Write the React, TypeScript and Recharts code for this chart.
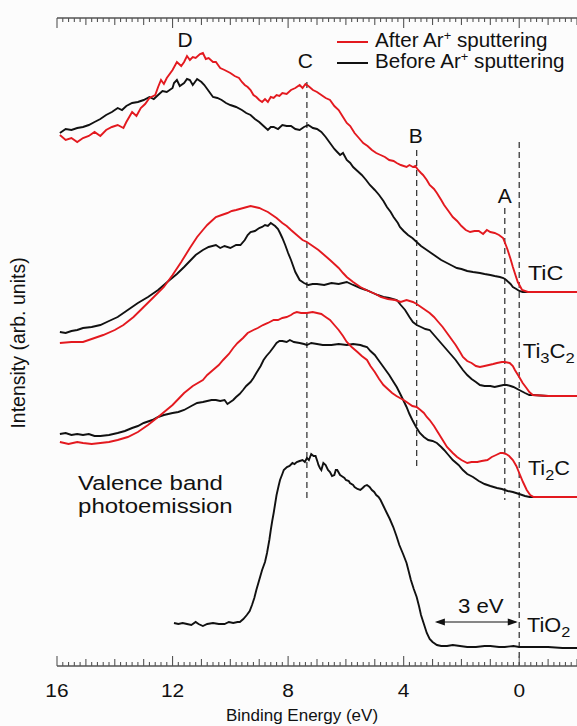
import React from 'react';
import { LineChart, Line, XAxis, YAxis, ReferenceLine, ReferenceDot, Legend } from 'recharts';

const FONT = '"Liberation Sans", Arial, Helvetica, sans-serif';
const RED = '#e3191f';
const BLACK = '#111111';
const DASH = '#3a3a3a';
const AXIS = '#555555';

const CHART_W = 577;
const CHART_H = 726;
const PLOT_TOP = 18;
const PLOT_LEFT = 57;
const X_AXIS_H = 60;

// Binding energy axis (eV), reversed
const xDomain: [number, number] = [-2, 16];
const yDomain: [number, number] = [0, 648];
const majorTickLabels = [16, 12, 8, 4, 0];
const energyTicks: number[] = [];
for (let k = -10; k <= 80; k++) energyTicks.push(k / 5);

const xTitle = 'Binding Energy (eV)';
const yTitle = 'Intensity (arb. units)';

// [binding energy (eV), intensity (arb. units)]
const ticAfter = [
  [15.9, 531], [15.7, 526], [15.5, 528], [15.3, 524], [15.1, 528], [14.9, 530], [14.7, 534], [14.5, 530], [14.3, 536],
  [14.1, 539], [13.9, 541], [13.7, 538], [13.6, 544], [13.4, 554], [13.25, 550], [13.1, 558], [12.95, 562],
  [12.8, 568], [12.6, 571], [12.5, 579], [12.4, 586], [12.3, 582], [12.2, 588], [12.0, 596], [11.85, 604],
  [11.7, 600], [11.6, 604], [11.5, 610], [11.4, 606], [11.3, 609], [11.2, 608], [11.05, 612], [10.95, 613],
  [10.85, 607], [10.75, 608], [10.6, 604], [10.5, 604], [10.35, 598], [10.2, 596], [10.0, 593], [9.85, 590],
  [9.7, 588], [9.6, 584], [9.5, 581], [9.4, 579], [9.3, 576], [9.2, 571], [9.1, 569], [9.0, 566], [8.9, 564],
  [8.8, 567], [8.7, 564], [8.6, 569], [8.5, 568], [8.4, 571], [8.3, 570], [8.2, 573], [8.05, 572], [7.9, 576],
  [7.75, 578], [7.6, 581], [7.5, 578], [7.4, 582], [7.3, 580], [7.14, 576], [7.0, 574], [6.85, 571],
  [6.7, 568], [6.55, 566], [6.4, 560], [6.25, 556], [6.1, 549], [5.97, 543], [5.85, 540], [5.7, 533],
  [5.55, 528], [5.4, 523], [5.25, 520], [5.1, 516], [4.95, 513], [4.8, 511], [4.65, 509], [4.5, 506],
  [4.35, 505], [4.24, 503], [4.1, 501], [3.9, 499], [3.8, 501], [3.68, 499], [3.6, 500], [3.5, 496],
  [3.4, 493], [3.33, 491], [3.2, 486], [3.1, 481], [2.95, 477], [2.85, 473], [2.7, 466], [2.6, 461],
  [2.45, 455], [2.3, 449], [2.15, 445], [2.0, 440], [1.85, 436], [1.7, 434], [1.55, 435], [1.4, 435],
  [1.25, 432], [1.12, 436], [1.0, 434], [0.85, 433], [0.7, 431], [0.56, 428], [0.45, 420], [0.4, 416],
  [0.3, 407], [0.22, 399], [0.12, 390], [0.05, 384], [-0.1, 376], [-0.3, 374], [-1, 374], [-2, 374],
];

const ticBefore = [
  [15.9, 533], [15.7, 537], [15.5, 536], [15.3, 538], [15.1, 539], [14.9, 541], [14.7, 544], [14.5, 547],
  [14.3, 551], [14.1, 554], [13.9, 558], [13.75, 556], [13.6, 560], [13.4, 563], [13.2, 564], [13.0, 566],
  [12.8, 569], [12.65, 567], [12.5, 571], [12.35, 575], [12.2, 574], [12.0, 578], [11.95, 583], [11.85, 586],
  [11.75, 580], [11.6, 583], [11.5, 587], [11.4, 586], [11.3, 581], [11.15, 587], [11.0, 584], [10.9, 581],
  [10.75, 575], [10.6, 569], [10.45, 568], [10.3, 566], [10.15, 563], [10.0, 561], [9.8, 559], [9.6, 556],
  [9.45, 553], [9.3, 551], [9.15, 547], [9.0, 544], [8.85, 540], [8.7, 536], [8.6, 539], [8.5, 539],
  [8.35, 537], [8.2, 541], [8.05, 540], [7.9, 540], [7.75, 537], [7.6, 536], [7.45, 539], [7.3, 541],
  [7.14, 538], [7.0, 537], [6.85, 534], [6.7, 529], [6.55, 523], [6.4, 517], [6.3, 514], [6.2, 511],
  [6.1, 513], [5.97, 506], [5.85, 503], [5.75, 499], [5.6, 495], [5.45, 491], [5.3, 486], [5.17, 481],
  [5.0, 476], [4.85, 471], [4.7, 465], [4.58, 459], [4.45, 454], [4.35, 449], [4.2, 443], [4.13, 439],
  [4.0, 435], [3.85, 431], [3.7, 428], [3.55, 424], [3.4, 420], [3.2, 416], [3.0, 412], [2.85, 409],
  [2.7, 406], [2.5, 403], [2.3, 400], [2.16, 398], [2.0, 397], [1.8, 395], [1.6, 394], [1.36, 393],
  [1.2, 392], [1.0, 391], [0.85, 390], [0.67, 389], [0.55, 388], [0.45, 386], [0.3, 382], [0.22, 379],
  [0.1, 377], [0.0, 375], [-0.12, 374], [-1, 374], [-2, 374],
];

const ti3c2After = [
  [15.9, 323], [15.5, 324], [15.1, 324], [14.8, 327], [14.4, 331], [14.0, 336], [13.7, 341], [13.35, 349],
  [13.0, 359], [12.65, 369], [12.3, 379], [12.0, 391], [11.7, 404], [11.4, 418], [11.15, 429], [10.95, 436],
  [10.8, 441], [10.65, 445], [10.5, 449], [10.3, 451], [10.1, 453], [9.95, 455], [9.8, 456], [9.55, 458],
  [9.3, 460], [9.15, 459], [9.0, 458], [8.85, 456], [8.7, 454], [8.55, 451], [8.4, 448], [8.2, 443],
  [8.05, 440], [7.9, 436], [7.7, 431], [7.5, 426], [7.35, 424], [7.15, 420], [6.95, 416], [6.75, 411],
  [6.55, 406], [6.4, 402], [6.25, 398], [6.1, 393], [5.97, 389], [5.75, 384], [5.5, 379], [5.3, 376],
  [5.06, 373], [4.9, 371], [4.8, 369], [4.55, 367], [4.3, 366], [4.1, 364], [3.9, 366], [3.68, 364],
  [3.55, 362], [3.4, 359], [3.25, 356], [3.1, 353], [2.95, 349], [2.8, 344], [2.65, 339], [2.5, 333],
  [2.35, 327], [2.2, 321], [2.05, 314], [1.95, 309], [1.8, 305], [1.65, 303], [1.5, 300], [1.36, 299],
  [1.2, 300], [1.05, 301], [0.9, 302], [0.77, 303], [0.6, 304], [0.5, 304], [0.33, 303], [0.22, 300],
  [0.15, 296], [0.0, 289], [-0.12, 283], [-0.25, 278], [-0.35, 274], [-0.47, 271], [-1, 270], [-2, 270],
];

const ti3c2Before = [
  [15.9, 334], [15.7, 333], [15.5, 335], [15.3, 336], [15.1, 338], [14.8, 339], [14.5, 341], [14.2, 345],
  [13.9, 349], [13.55, 356], [13.2, 363], [12.85, 369], [12.5, 376], [12.3, 381], [12.1, 386], [11.85, 392],
  [11.6, 399], [11.4, 405], [11.2, 411], [10.95, 416], [10.75, 419], [10.5, 421], [10.35, 418], [10.2, 420],
  [10.0, 418], [9.8, 421], [9.65, 421], [9.5, 426], [9.4, 431], [9.3, 434], [9.15, 435], [9.0, 438],
  [8.9, 439], [8.8, 441], [8.7, 440], [8.6, 443], [8.45, 440], [8.35, 437], [8.28, 433], [8.2, 428],
  [8.1, 421], [8.0, 413], [7.9, 406], [7.75, 394], [7.6, 386], [7.45, 383], [7.3, 381], [7.15, 382],
  [7.0, 382], [6.75, 381], [6.5, 383], [6.25, 382], [5.97, 384], [5.75, 381], [5.5, 378], [5.3, 376],
  [5.06, 373], [4.9, 371], [4.7, 369], [4.5, 368], [4.24, 366], [4.1, 361], [3.95, 356], [3.8, 349],
  [3.68, 344], [3.55, 341], [3.4, 339], [3.25, 337], [3.1, 336], [2.95, 331], [2.8, 326], [2.65, 321],
  [2.5, 316], [2.35, 311], [2.2, 306], [2.05, 300], [1.95, 296], [1.8, 291], [1.65, 287], [1.5, 284],
  [1.36, 281], [1.2, 280], [1.0, 280], [0.85, 279], [0.7, 280], [0.55, 281], [0.43, 281], [0.3, 280],
  [0.2, 279], [0.0, 276], [-0.2, 273], [-0.35, 271], [-0.47, 271], [-1, 270], [-2, 270],
];

const ti2cAfter = [
  [15.9, 224], [15.6, 222], [15.3, 224], [15.1, 223], [14.8, 222], [14.5, 223], [14.2, 224], [13.9, 226],
  [13.55, 229], [13.2, 234], [12.85, 241], [12.5, 249], [12.25, 255], [12.0, 261], [11.8, 267], [11.6, 273],
  [11.3, 280], [10.95, 286], [10.8, 291], [10.6, 296], [10.4, 301], [10.25, 306], [10.05, 312], [9.9, 318],
  [9.75, 323], [9.56, 328], [9.4, 333], [9.2, 336], [9.05, 338], [8.87, 341], [8.7, 343], [8.5, 346],
  [8.35, 346], [8.2, 348], [8.05, 349], [7.9, 351], [7.8, 353], [7.7, 354], [7.55, 353], [7.35, 353],
  [7.15, 354], [7.0, 353], [6.85, 352], [6.75, 350], [6.65, 348], [6.55, 346], [6.4, 341], [6.25, 336],
  [6.1, 330], [5.97, 324], [5.8, 319], [5.6, 314], [5.45, 310], [5.27, 306], [5.15, 300], [5.0, 294],
  [4.85, 287], [4.7, 281], [4.55, 277], [4.4, 273], [4.25, 270], [4.13, 268], [4.0, 266], [3.85, 263],
  [3.7, 260], [3.55, 259], [3.42, 256], [3.3, 253], [3.2, 249], [3.1, 246], [2.95, 240], [2.8, 233],
  [2.65, 226], [2.5, 219], [2.3, 213], [2.15, 209], [2.0, 206], [1.8, 203], [1.65, 204], [1.45, 204],
  [1.3, 205], [1.1, 206], [0.95, 209], [0.8, 211], [0.65, 213], [0.56, 213], [0.45, 212], [0.35, 210],
  [0.22, 206], [0.1, 200], [0.0, 193], [-0.13, 184], [-0.26, 176], [-0.38, 171], [-0.5, 169], [-1, 169],
  [-2, 169],
];

const ti2cBefore = [
  [15.9, 232], [15.7, 233], [15.5, 231], [15.3, 232], [15.1, 231], [14.9, 232], [14.7, 230], [14.5, 230],
  [14.2, 231], [13.9, 233], [13.65, 235], [13.4, 238], [13.2, 240], [13.0, 243], [12.7, 246], [12.5, 249],
  [12.3, 251], [12.0, 253], [11.8, 254], [11.6, 256], [11.35, 260], [11.15, 263], [10.95, 264], [10.8, 265],
  [10.65, 266], [10.5, 266], [10.35, 265], [10.2, 266], [10.1, 262], [10.0, 264], [9.9, 266], [9.8, 269],
  [9.68, 272], [9.56, 276], [9.45, 280], [9.3, 284], [9.2, 288], [9.1, 293], [8.95, 300], [8.85, 306],
  [8.75, 310], [8.63, 314], [8.5, 319], [8.4, 323], [8.3, 325], [8.2, 325], [8.05, 324], [7.94, 326],
  [7.8, 324], [7.6, 323], [7.45, 322], [7.35, 321], [7.2, 323], [7.0, 322], [6.8, 321], [6.5, 321],
  [6.25, 322], [5.97, 321], [5.75, 322], [5.5, 321], [5.4, 320], [5.27, 319], [5.15, 315], [5.0, 311],
  [4.9, 307], [4.8, 303], [4.65, 297], [4.5, 291], [4.35, 284], [4.24, 279], [4.1, 271], [3.9, 259],
  [3.8, 252], [3.7, 246], [3.57, 239], [3.44, 233], [3.3, 229], [3.15, 226], [3.0, 225], [2.85, 223],
  [2.7, 219], [2.6, 216], [2.45, 211], [2.3, 206], [2.1, 201], [1.95, 196], [1.8, 192], [1.6, 189],
  [1.4, 185], [1.2, 182], [1.0, 180], [0.77, 178], [0.6, 177], [0.4, 175], [0.22, 174], [0.0, 172],
  [-0.2, 170], [-0.36, 169], [-1, 169], [-2, 169],
];

const tio2 = [
  [11.95, 43], [11.8, 42], [11.65, 43], [11.5, 42], [11.35, 41], [11.2, 44], [11.1, 42], [10.95, 40],
  [10.8, 42], [10.6, 43], [10.4, 42], [10.2, 42], [10.05, 44], [9.9, 43], [9.75, 44], [9.67, 44],
  [9.55, 47], [9.43, 51], [9.33, 55], [9.25, 61], [9.17, 68], [9.1, 76], [9.0, 86], [8.9, 96],
  [8.8, 104], [8.73, 113], [8.65, 126], [8.6, 136], [8.55, 145], [8.5, 153], [8.45, 162], [8.4, 171],
  [8.33, 180], [8.28, 186], [8.2, 192], [8.15, 196], [8.04, 199], [7.95, 200], [7.85, 203], [7.78, 202],
  [7.7, 204], [7.6, 205], [7.5, 206], [7.42, 204], [7.35, 208], [7.28, 206], [7.2, 212], [7.12, 210],
  [7.05, 210], [6.98, 204], [6.95, 201], [6.9, 198], [6.85, 196], [6.78, 203], [6.7, 201], [6.62, 196],
  [6.55, 194], [6.48, 190], [6.4, 191], [6.35, 196], [6.3, 196], [6.2, 191], [6.15, 190], [6.05, 188],
  [6.0, 186], [5.9, 185], [5.86, 183], [5.75, 181], [5.7, 179], [5.6, 177], [5.5, 176], [5.42, 178],
  [5.35, 180], [5.27, 181], [5.18, 179], [5.1, 176], [5.02, 174], [4.95, 171], [4.87, 169], [4.8, 166],
  [4.7, 160], [4.6, 154], [4.48, 147], [4.36, 139], [4.25, 130], [4.15, 121], [4.02, 112], [3.9, 103],
  [3.82, 94], [3.75, 86], [3.65, 77], [3.55, 69], [3.47, 60], [3.4, 51], [3.3, 42], [3.2, 33],
  [3.1, 27], [3.0, 24], [2.85, 21], [2.7, 20], [2.5, 20], [2.3, 21], [2.05, 20], [1.8, 19],
  [1.5, 19], [1.2, 20], [1.0, 20], [0.7, 19], [0.5, 19], [0.2, 20], [0, 19], [-0.5, 19], [-1, 19],
  [-1.5, 18], [-2, 18],
];

const toPts = (a: number[][]) => a.map(([e, i]) => ({ e, i }));

const seriesList = [
  { id: 'ticBefore', data: ticBefore, color: BLACK },
  { id: 'ticAfter', data: ticAfter, color: RED },
  { id: 'ti3c2Before', data: ti3c2Before, color: BLACK },
  { id: 'ti3c2After', data: ti3c2After, color: RED },
  { id: 'ti2cBefore', data: ti2cBefore, color: BLACK },
  { id: 'ti2cAfter', data: ti2cAfter, color: RED },
  { id: 'tio2', data: tio2, color: BLACK },
];

// Vertical dashed guide lines: [energy, from intensity, to intensity]
const guideLines = [
  [7.35, 584, 168],
  [3.55, 516, 196],
  [0.5, 458, 166],
  [0.0, 524, 0],
];

type Seg = { t: string; sub?: boolean };
const annotations: { e: number; i: number; parts: Seg[]; size: number; anchor: string; sx: number }[] = [
  { e: 11.57, i: 619, parts: [{ t: 'D' }], size: 20, anchor: 'middle', sx: 1.05 },
  { e: 7.4, i: 598, parts: [{ t: 'C' }], size: 20, anchor: 'middle', sx: 1.05 },
  { e: 3.58, i: 523, parts: [{ t: 'B' }], size: 20, anchor: 'middle', sx: 1.05 },
  { e: 0.5, i: 463, parts: [{ t: 'A' }], size: 20, anchor: 'middle', sx: 1.05 },
  { e: -0.3, i: 386, parts: [{ t: 'TiC' }], size: 20.5, anchor: 'start', sx: 1.14 },
  { e: -0.12, i: 308, parts: [{ t: 'Ti' }, { t: '3', sub: true }, { t: 'C' }, { t: '2', sub: true }], size: 20.5, anchor: 'start', sx: 1.08 },
  { e: -0.3, i: 191, parts: [{ t: 'Ti' }, { t: '2', sub: true }, { t: 'C' }], size: 20.5, anchor: 'start', sx: 1.06 },
  { e: -0.27, i: 34, parts: [{ t: 'TiO' }, { t: '2', sub: true }], size: 20.5, anchor: 'start', sx: 1.06 },
  { e: 1.33, i: 53, parts: [{ t: '3 eV' }], size: 19.5, anchor: 'middle', sx: 1.14 },
];
const bandLabelLines = ['Valence band', 'photoemission'];
const bandLabelPos = { e: 15.27, i: 176 };
const gapArrow = { from: 2.92, to: 0.05, i: 44 };

const legendItems = [
  { text: 'After Ar', tail: ' sputtering', color: RED },
  { text: 'Before Ar', tail: ' sputtering', color: BLACK },
];

const renderParts = (parts: Seg[], size: number) => {
  const out: React.ReactNode[] = [];
  let shifted = false;
  parts.forEach((p, idx) => {
    if (p.sub) {
      out.push(<tspan key={idx} dy={shifted ? 0 : 5} fontSize={size * 0.75}>{p.t}</tspan>);
      shifted = true;
    } else {
      out.push(<tspan key={idx} dy={shifted ? -5 : 0} fontSize={size}>{p.t}</tspan>);
      shifted = false;
    }
  });
  return out;
};

const AxisTick = (props: any) => {
  const { x, y, payload } = props;
  const v = payload.value as number;
  const k = Math.round(v * 5);
  const major = k % 20 === 0;
  const mid = k % 5 === 0;
  const len = major ? 10 : mid ? 7 : 4;
  const showLabel = majorTickLabels.includes(v);
  return (
    <g>
      <line x1={x} x2={x} y1={y} y2={y - len} stroke={AXIS} strokeWidth={1.1} />
      <line x1={x} x2={x} y1={PLOT_TOP} y2={PLOT_TOP + len} stroke={AXIS} strokeWidth={1.1} />
      {showLabel && (
        <text
          transform={`translate(${x} ${y + 31}) scale(1.1 1)`}
          textAnchor="middle"
          fontSize={19}
          fontFamily={FONT}
          fill="#111"
        >
          {v}
        </text>
      )}
    </g>
  );
};

const AxisTitles = () => (
  <g>
    <text x={302} y={721} textAnchor="middle" fontSize={17} fontFamily={FONT} fill="#111">
      {xTitle}
    </text>
    <text
      x={25}
      y={343}
      transform="rotate(-90 25 343)"
      textAnchor="middle"
      fontSize={19.5}
      fontFamily={FONT}
      fill="#111"
    >
      {yTitle}
    </text>
  </g>
);

const LegendContent = () => (
  <svg width={250} height={50} style={{ overflow: 'visible', display: 'block' }}>
    {legendItems.map((it, idx) => (
      <g key={idx}>
        <line x1={7} x2={38} y1={14 + idx * 21} y2={14 + idx * 21} stroke={it.color} strokeWidth={2} />
        <text
          transform={`translate(45 ${19 + idx * 21}) scale(1.03 1)`}
          fontSize={20}
          fontFamily={FONT}
          fill="#111"
        >
          {it.text}
          <tspan dy={-7} fontSize={12.5}>+</tspan>
          <tspan dy={7}>{it.tail}</tspan>
        </text>
      </g>
    ))}
  </svg>
);

const ArrowShape = (props: any) => {
  const { x1, y1, x2, y2 } = props;
  const l = Math.min(x1, x2);
  const r = Math.max(x1, x2);
  const y = (y1 + y2) / 2;
  return (
    <g>
      <line x1={l + 2} x2={r - 2} y1={y} y2={y} stroke="#111" strokeWidth={1.2} />
      <polygon points={`${l},${y} ${l + 10},${y - 3.5} ${l + 10},${y + 3.5}`} fill="#111" />
      <polygon points={`${r},${y} ${r - 10},${y - 3.5} ${r - 10},${y + 3.5}`} fill="#111" />
    </g>
  );
};

export default function App() {
  return (
    <div style={{ position: 'absolute', left: 0, top: 0, width: CHART_W, height: CHART_H, background: '#fcfcfc' }}>
      <LineChart
        width={CHART_W}
        height={CHART_H}
        margin={{ top: PLOT_TOP, right: 0, bottom: 0, left: PLOT_LEFT }}
        style={{ fontFamily: FONT }}
      >
        <XAxis
          type="number"
          dataKey="e"
          domain={xDomain}
          reversed
          allowDataOverflow
          ticks={energyTicks}
          interval={0}
          tickSize={0}
          tickMargin={0}
          tickLine={false}
          tick={(p: any) => <AxisTick {...p} />}
          height={X_AXIS_H}
          axisLine={{ stroke: AXIS, strokeWidth: 1.6 }}
          label={{ content: AxisTitles }}
        />
        <YAxis
          type="number"
          domain={yDomain}
          allowDataOverflow
          width={0}
          tick={false}
          tickLine={false}
          axisLine={{ stroke: AXIS, strokeWidth: 1.6 }}
        />
        <ReferenceLine y={yDomain[1]} stroke={AXIS} strokeWidth={1.6} ifOverflow="visible" />
        <Legend
          layout="horizontal"
          verticalAlign="middle"
          align="center"
          content={LegendContent}
          wrapperStyle={{ left: 330, top: 28, width: 250, height: 50 }}
        />
        {guideLines.map(([e, a, b], idx) => (
          <ReferenceLine
            key={'g' + idx}
            segment={[{ x: e, y: a }, { x: e, y: b }]}
            stroke={DASH}
            strokeWidth={1.3}
            strokeDasharray="6 4"
            ifOverflow="visible"
          />
        ))}
        {seriesList.map((s) => (
          <Line
            key={s.id}
            data={toPts(s.data)}
            dataKey="i"
            type="linear"
            stroke={s.color}
            strokeWidth={1.9}
            dot={false}
            activeDot={false}
            isAnimationActive={false}
            legendType="none"
          />
        ))}
        <ReferenceLine
          segment={[{ x: gapArrow.from, y: gapArrow.i }, { x: gapArrow.to, y: gapArrow.i }]}
          shape={ArrowShape}
          ifOverflow="visible"
        />
        {annotations.map((a, idx) => (
          <ReferenceDot
            key={'a' + idx}
            x={a.e}
            y={a.i}
            r={0}
            ifOverflow="visible"
            shape={(p: any) => (
              <text
                transform={`translate(${p.cx} ${p.cy}) scale(${a.sx} 1)`}
                textAnchor={a.anchor}
                fontFamily={FONT}
                fill="#111"
                fontSize={a.size}
              >
                {renderParts(a.parts, a.size)}
              </text>
            )}
          />
        ))}
        <ReferenceDot
          x={bandLabelPos.e}
          y={bandLabelPos.i}
          r={0}
          ifOverflow="visible"
          shape={(p: any) => (
            <text transform={`translate(${p.cx} ${p.cy}) scale(1.17 1)`} fontFamily={FONT} fill="#111" fontSize={20.5}>
              {bandLabelLines.map((ln, idx) => (
                <tspan key={idx} x={0} dy={idx === 0 ? 0 : 23}>
                  {ln}
                </tspan>
              ))}
            </text>
          )}
        />
      </LineChart>
    </div>
  );
}
